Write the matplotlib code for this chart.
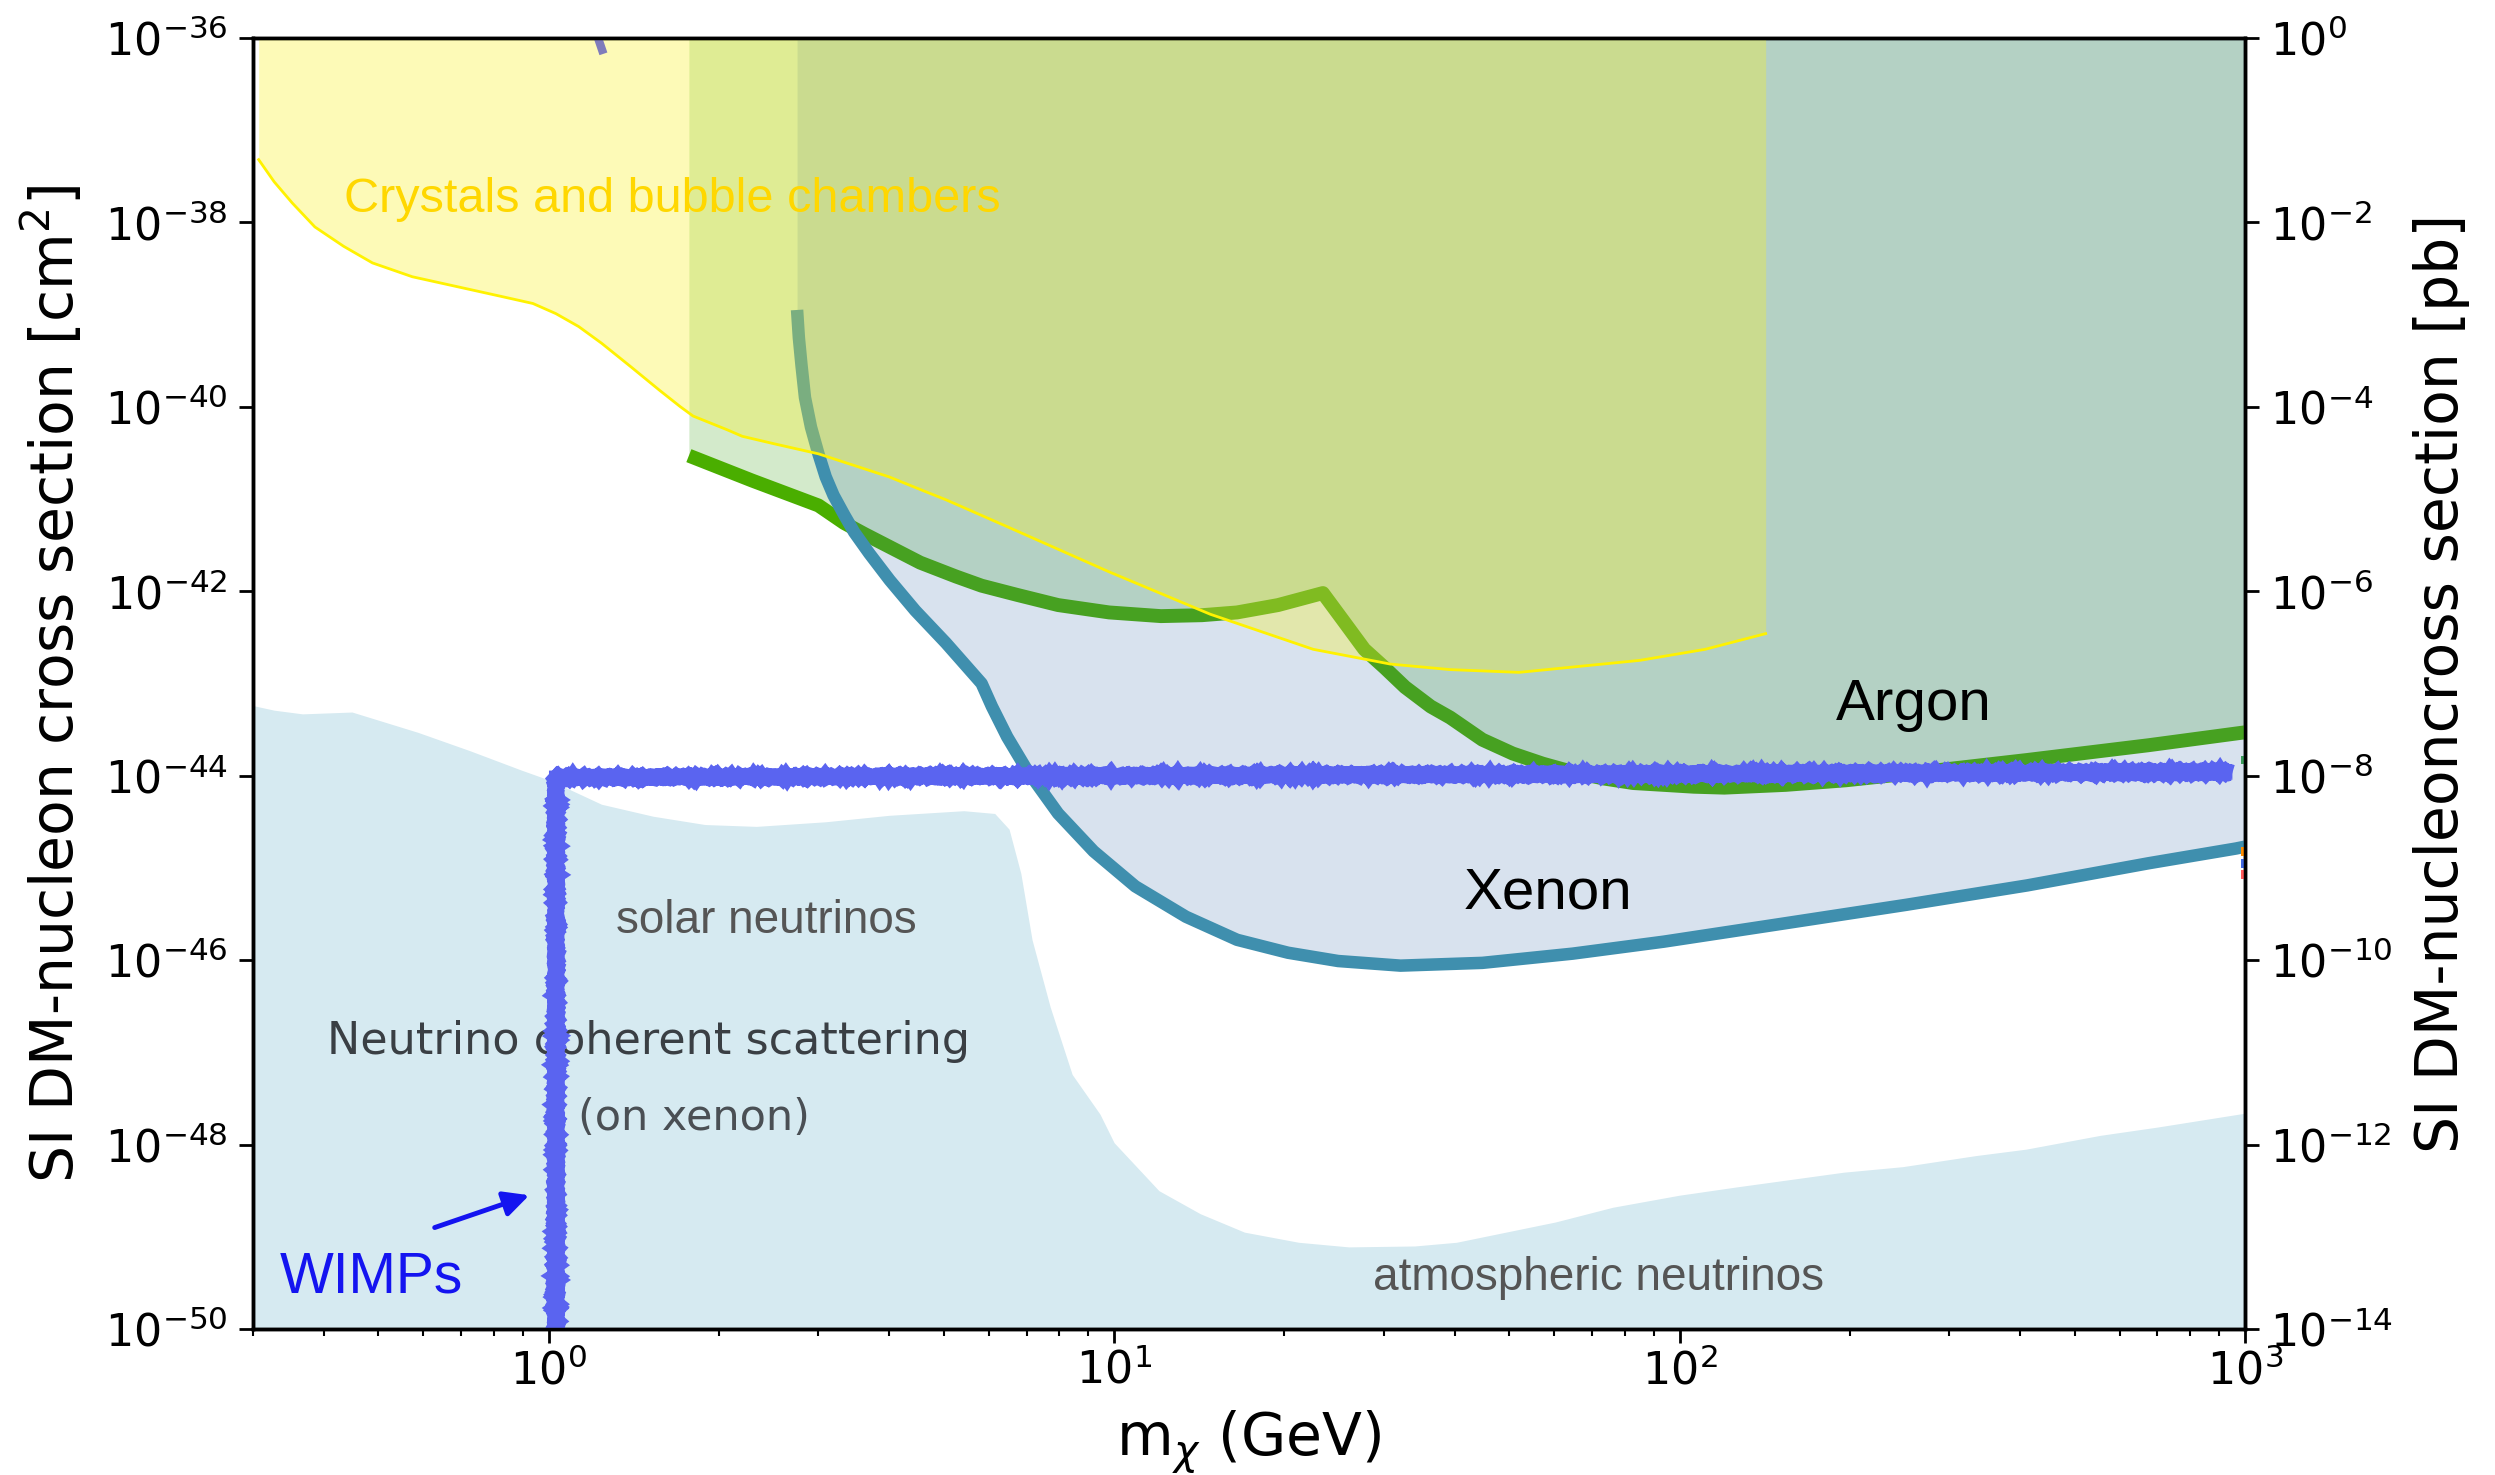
import numpy as np
import matplotlib
matplotlib.use('Agg')
import matplotlib.pyplot as plt

# all cross sections stored as log10(sigma / cm^2), masses in GeV

# neutrino floor (coherent scattering on xenon)
nu_m = [0.30, 0.327, 0.367, 0.449, 0.587, 0.726, 0.895, 1.005, 1.24, 1.53,
        1.89, 2.33, 3.09, 4.0, 5.42, 6.15, 6.52, 6.84, 7.16, 7.71,
        8.43, 9.44, 10.0, 12.0, 14.2, 17.0, 21.2, 26.0, 34.0, 40.3,
        60.3, 76.2, 99.8, 126, 195, 248, 334, 410, 555, 701, 1000]
nu_logsig = [-43.24, -43.29, -43.33, -43.31, -43.53, -43.73, -43.94, -44.05, -44.31, -44.44,
             -44.53, -44.55, -44.50, -44.43, -44.38, -44.41, -44.58, -45.06, -45.78, -46.51,
             -47.24, -47.67, -47.98, -48.50, -48.75, -48.95, -49.06, -49.11, -49.10, -49.06,
             -48.84, -48.68, -48.55, -48.46, -48.30, -48.24, -48.12, -48.05, -47.90, -47.81, -47.66]

# xenon limit
xe_m = [2.75, 2.77, 2.80, 2.84, 2.91, 3.00, 3.09, 3.19, 3.33, 3.47, 3.69,
        4.01, 4.45, 5.04, 5.83, 6.08, 6.47, 7.03, 7.96, 9.20, 10.9,
        13.4, 16.5, 20.3, 24.9, 32.1, 44.8, 64.7, 93.8, 154, 252,
        412, 675, 964, 1000]
xe_logsig = [-38.95, -39.25, -39.55, -39.90, -40.22, -40.51, -40.76, -40.96, -41.17, -41.36, -41.59,
             -41.88, -42.21, -42.56, -43.00, -43.25, -43.58, -43.95, -44.41, -44.82, -45.20,
             -45.53, -45.78, -45.92, -46.01, -46.06, -46.03, -45.93, -45.80, -45.60, -45.40,
             -45.19, -44.95, -44.79, -44.77]

# argon limit
ar_m = [1.77, 2.29, 3.00, 3.33, 3.62, 4.01, 4.54, 5.25, 5.83, 6.74,
        7.96, 9.80, 12.1, 14.3, 16.5, 19.5, 23.4, 25.5, 27.7, 30.1,
        32.7, 36.3, 39.3, 44.8, 50.7, 57.3, 64.7, 73.3, 82.8, 93.8,
        106, 120, 154, 197, 252, 412, 675, 1000]
ar_logsig = [-40.53, -40.80, -41.07, -41.26, -41.38, -41.52, -41.69, -41.84, -41.94, -42.04,
             -42.15, -42.23, -42.27, -42.26, -42.23, -42.15, -42.02, -42.33, -42.63, -42.83,
             -43.04, -43.25, -43.37, -43.61, -43.76, -43.87, -43.96, -44.03, -44.08, -44.10,
             -44.12, -44.13, -44.10, -44.05, -43.98, -43.83, -43.67, -43.53]

# crystals and bubble chambers
cr_m = [0.307, 0.327, 0.352, 0.386, 0.434, 0.488, 0.574, 0.692, 0.834, 0.938,
        1.03, 1.13, 1.24, 1.40, 1.57, 1.71, 1.80, 2.07, 2.20, 2.50,
        3.00, 4.00, 4.64, 5.05, 6.47, 9.80, 14.8, 22.5, 30.8, 39.3,
        52.0, 85.0, 111, 142]
cr_logsig = [-37.32, -37.56, -37.79, -38.05, -38.26, -38.44, -38.59, -38.70, -38.81, -38.88,
             -38.99, -39.13, -39.31, -39.57, -39.82, -40.00, -40.10, -40.25, -40.32, -40.40,
             -40.51, -40.76, -40.92, -41.01, -41.30, -41.79, -42.25, -42.63, -42.79, -42.85,
             -42.88, -42.75, -42.63, -42.46]

# WIMP region outline
wimp_m = [1.03, 1.03, 950]
wimp_logsig = [-50.0, -44.02, -43.96]

# stray curve leaving the top of the frame
stray_m = [1.207, 1.243]
stray_logsig = [-35.90, -36.13]

# curves just entering at the right edge
edge_m = [1000, 1000, 1000, 1000]
edge_logsig = [-43.83, -44.82, -44.95, -45.07]
edge_colors = ['#3a9a5a', '#ff8c00', '#4169e1', '#ff5a5a']

def sig(a):
    return 10.0 ** np.asarray(a)

fig = plt.figure(figsize=(24.95, 14.75), dpi=100)
ax = fig.add_axes([0.1014, 0.099, 0.7984, 0.8753])
ax.set_xscale('log')
ax.set_yscale('log')
ax.set_xlim(0.3, 1000)
ax.set_ylim(1e-50, 1e-36)

ax.fill_between(nu_m, 1e-50, sig(nu_logsig), color='#d6eaf1', lw=0, zorder=1)

ax.fill_between(ar_m, sig(ar_logsig), 1e-36, color='#70bc55', alpha=0.3, lw=0, zorder=2)
ax.plot(ar_m, sig(ar_logsig), color='#4aae00', lw=10, solid_capstyle='butt',
        solid_joinstyle='round', zorder=3)

ax.fill_between(xe_m, sig(xe_logsig), 1e-36, color='#3c6eaa', alpha=0.2, lw=0, zorder=4)
ax.plot(xe_m, sig(xe_logsig), color='#3f8fae', lw=9, solid_capstyle='butt',
        solid_joinstyle='round', zorder=5)

ax.fill_between(cr_m, sig(cr_logsig), 1e-36, color='#f9f221', alpha=0.32, lw=0, zorder=6)
ax.plot(cr_m, sig(cr_logsig), color='#fff200', lw=2, zorder=7)

ax.plot(stray_m, sig(stray_logsig), color='#7f7cbb', lw=6, zorder=7)
ax.scatter(edge_m, sig(edge_logsig), marker='s', s=40, c=edge_colors, lw=0, zorder=7)

# rough brush-like outline of the WIMP region
ax.plot(wimp_m, sig(wimp_logsig), color='#5a64f0', lw=10,
        solid_joinstyle='miter', solid_capstyle='butt', zorder=10)
wl, = ax.plot(wimp_m, sig(wimp_logsig), color='#5a64f0', lw=11.5,
              solid_joinstyle='miter', solid_capstyle='butt', zorder=10)
wl.set_sketch_params(0.8, 3, 3)

helv = 'Liberation Sans'
ax.text(0.434, sig(-37.75), 'Crystals and bubble chambers', color='#ffd700',
        fontsize=35, family=helv, va='center', ha='left', zorder=8)
ax.text(260, sig(-43.40), 'Argon', fontsize=42, family=helv, ha='center', va='baseline', zorder=8)
ax.text(58.5, sig(-45.44), 'Xenon', fontsize=42, family=helv, ha='center', va='baseline', zorder=8)
ax.text(2.43, sig(-45.71), 'solar neutrinos', fontsize=33, family=helv, color='#555555',
        ha='center', va='baseline', zorder=8)
ax.text(71.8, sig(-49.58), 'atmospheric neutrinos', fontsize=33, family=helv, color='#555555',
        ha='center', va='baseline', zorder=8)
ax.text(1.50, sig(-47.02), 'Neutrino coherent scattering', fontsize=32, color='#3a3f44',
        ha='center', va='baseline', zorder=8)
ax.text(1.81, sig(-47.84), '(on xenon)', fontsize=31, color='#4a4f54',
        ha='center', va='baseline', zorder=8)
ax.text(0.485, sig(-49.60), 'WIMPs', fontsize=41, family=helv, color='#1414f0',
        ha='center', va='baseline', zorder=8)
ax.annotate('', xy=(0.934, sig(-48.54)), xytext=(0.622, sig(-48.91)),
            arrowprops=dict(arrowstyle='-|>', color='#1414f0', lw=3.5, mutation_scale=38),
            zorder=8)

ax.set_yticks(sig(np.arange(-50, -35, 2)))
ax.yaxis.set_minor_locator(matplotlib.ticker.NullLocator())
ax.tick_params(which='major', length=10, width=2, labelsize=32)
ax.tick_params(axis='x', which='major', pad=4)
ax.tick_params(axis='y', which='major', pad=8)
ax.tick_params(which='minor', length=5, width=1.5)
for s in ax.spines.values():
    s.set_linewidth(2.5)

ax.set_xlabel(r'm$_\chi$ (GeV)', fontsize=42)
ax.set_ylabel(r'SI DM-nucleon cross section [cm$^2$]', fontsize=42)
ax.xaxis.set_label_coords(0.5, -0.062)
ax.yaxis.set_label_coords(-0.0838, 0.5)

ax2 = ax.twinx()
ax2.set_yscale('log')
ax2.set_ylim(1e-14, 1)
ax2.set_yticks(sig(np.arange(-14, 1, 2)))
ax2.yaxis.set_minor_locator(matplotlib.ticker.NullLocator())
ax2.tick_params(which='major', length=10, width=2, labelsize=32, pad=8)
for s in ax2.spines.values():
    s.set_linewidth(2.5)
ax2.set_ylabel('SI DM-nucleoncross section [pb]', fontsize=42)
ax2.yaxis.set_label_coords(1.0845, 0.5)

fig.savefig('out.png', dpi=100)
